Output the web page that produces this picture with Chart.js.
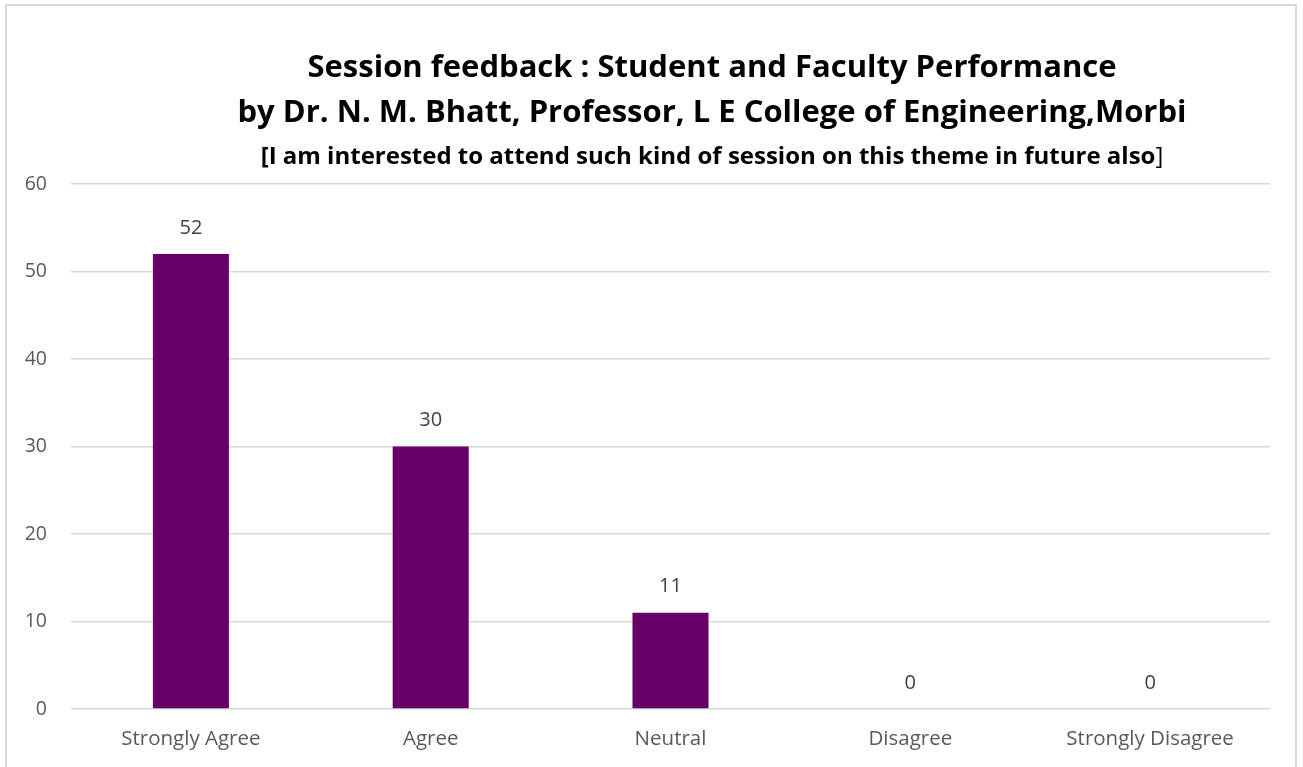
<!DOCTYPE html>
<html>
<head>
<meta charset="utf-8">
<script src="https://cdn.jsdelivr.net/npm/chart.js@4"></script>
<style>
  html, body { margin: 0; padding: 0; background: #fff; overflow: hidden; }
  #wrap { position: relative; width: 1303px; height: 767px; }
  #frame { position: absolute; left: 5px; top: 4px; width: 1292px; height: 800px;
           border: 2px solid #d9d9d9; box-sizing: border-box; pointer-events: none; }
</style>
</head>
<body>
<div id="wrap">
  <canvas id="chart" width="1303" height="767"></canvas>
  <div id="frame"></div>
</div>
<script>
const categories = ["Strongly Agree", "Agree", "Neutral", "Disagree", "Strongly Disagree"]
const responses = [52, 30, 11, 0, 0]
const titleLines = [
    "Session feedback : Student and Faculty Performance",
    "by Dr. N. M. Bhatt, Professor, L E College of Engineering,Morbi",
]
const subtitleText = "[I am interested to attend such kind of session on this theme in future also"
const subtitleEnd = "]"

const FONT = "'Open Sans', 'Noto Sans', sans-serif"

// title drawn by hand so the closing bracket can stay regular weight
const titlePlugin = {
    id: "sheetTitle",
    afterDraw(chart) {
        const ctx = chart.ctx
        const cx = 712
        ctx.save()
        ctx.fillStyle = "#000"
        ctx.textBaseline = "middle"
        ctx.textAlign = "center"
        ctx.font = "bold 31px " + FONT
        ctx.fillText(titleLines[0], cx, 68)
        ctx.fillText(titleLines[1], cx, 113)

        ctx.font = "bold 24px " + FONT
        const w1 = ctx.measureText(subtitleText).width
        ctx.font = "24px " + FONT
        const w2 = ctx.measureText(subtitleEnd).width
        let x = cx - (w1 + w2) / 2
        ctx.textAlign = "left"
        ctx.font = "bold 24px " + FONT
        ctx.fillText(subtitleText, x, 157)
        ctx.font = "24px " + FONT
        ctx.fillText(subtitleEnd, x + w1, 157)
        ctx.restore()
    },
}

const valueLabels = {
    id: "valueLabels",
    afterDatasetsDraw(chart) {
        const ctx = chart.ctx
        const meta = chart.getDatasetMeta(0)
        ctx.save()
        ctx.fillStyle = "#404040"
        ctx.font = "20px " + FONT
        ctx.textAlign = "center"
        ctx.textBaseline = "middle"
        meta.data.forEach((bar, i) => {
            ctx.fillText(String(responses[i]), bar.x, bar.y - 26)
        })
        ctx.restore()
    },
}

new Chart(document.getElementById("chart"), {
    type: "bar",
    data: {
        labels: categories,
        datasets: [{
            data: responses,
            backgroundColor: "#660066",
            categoryPercentage: 1,
            barPercentage: 0.317,
        }],
    },
    options: {
        responsive: false,
        animation: false,
        layout: { padding: { top: 184, right: 33, bottom: 0, left: 0 } },
        plugins: {
            legend: { display: false },
            title: { display: false },
            tooltip: { enabled: false },
        },
        scales: {
            x: {
                grid: { display: false, drawTicks: false },
                border: { display: false },
                ticks: { color: "#595959", font: { family: FONT, size: 20.5 }, padding: 18 },
                afterFit(scale) { scale.height = 58 },
            },
            y: {
                min: 0,
                max: 60,
                grid: { color: "#d9d9d9", lineWidth: 1.5, drawTicks: false },
                border: { display: false },
                ticks: { stepSize: 10, color: "#595959", font: { family: FONT, size: 19.5 }, padding: 24 },
                afterFit(scale) { scale.width = 71 },
            },
        },
    },
    plugins: [titlePlugin, valueLabels],
})
</script>
</body>
</html>
